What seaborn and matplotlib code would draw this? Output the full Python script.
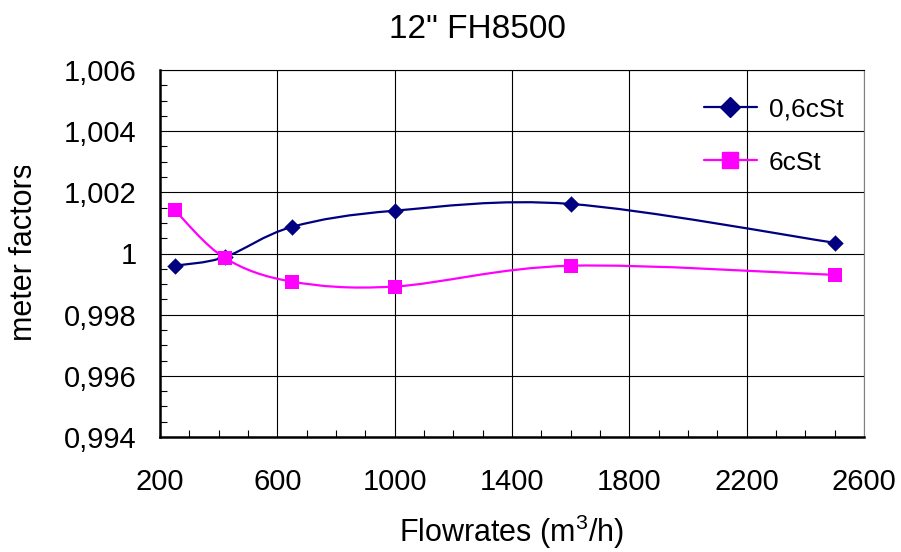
import numpy as np
import matplotlib
matplotlib.use("Agg")
import matplotlib.pyplot as plt
import seaborn as sns
from matplotlib.path import Path
from matplotlib.patches import PathPatch
from matplotlib.lines import Line2D
from matplotlib.ticker import MultipleLocator, FuncFormatter
from matplotlib.transforms import Bbox

# data
flow = [250, 420, 650, 1000, 1600, 2500]
mf_06cst = [0.99960, 0.99988, 1.00087, 1.00140, 1.00162, 1.00035]
mf_6cst = [1.00142, 0.99986, 0.99908, 0.99892, 0.99960, 0.99930]
series_names = ["0,6cSt", "6cSt"]
series_colors = ["#000080", "#FF00FF"]
series_markers = ["D", "s"]
x_ticks = [200, 600, 1000, 1400, 1800, 2200, 2600]


def smooth_path(xs, ys):
    """Excel-style smoothed line: cubic Bezier segments through the points."""
    pts = np.column_stack([xs, ys]).astype(float)
    n = len(pts)
    verts = [pts[0]]
    codes = [Path.MOVETO]
    for i in range(n - 1):
        p0 = pts[max(i - 1, 0)]
        p1 = pts[i]
        p2 = pts[i + 1]
        p3 = pts[min(i + 2, n - 1)]
        c1 = p1 + (p2 - p0) / 6.0
        c2 = p2 - (p3 - p1) / 6.0
        verts += [c1, c2, p2]
        codes += [Path.CURVE4] * 3
    return Path(verts, codes)


sns.set_theme(style="white")
plt.rcParams["font.family"] = ["Liberation Sans", "DejaVu Sans"]
plt.rcParams["mathtext.fontset"] = "custom"
plt.rcParams["mathtext.rm"] = "Liberation Sans"
for key in ["text.color", "axes.labelcolor", "xtick.color", "ytick.color"]:
    plt.rcParams[key] = "black"

fig = plt.figure(figsize=(9.01, 5.52), dpi=100)
ax = fig.add_axes([160 / 901, 1 - 437 / 552, 704 / 901, 367 / 552])

for ys, name, col, mk, sz in zip([mf_06cst, mf_6cst], series_names,
                                  series_colors, series_markers, [70, 110]):
    ax.add_patch(PathPatch(smooth_path(flow, ys), facecolor="none",
                           edgecolor=col, linewidth=1.6, zorder=3))
    sns.scatterplot(x=flow, y=ys, marker=mk, color=col, s=sz,
                    edgecolor=col, linewidth=0, ax=ax, zorder=4, legend=False)

ax.set_xlim(200, 2600)
ax.set_ylim(0.994, 1.006)
ax.set_xticks(x_ticks)
ax.xaxis.set_minor_locator(MultipleLocator(100))
ax.yaxis.set_major_locator(MultipleLocator(0.002))
ax.yaxis.set_minor_locator(MultipleLocator(0.0005))


def comma_fmt(v, pos):
    s = f"{v:.3f}".rstrip("0").rstrip(".")
    return s.replace(".", ",")


ax.yaxis.set_major_formatter(FuncFormatter(comma_fmt))
ax.grid(True, which="major", color="black", linewidth=0.8)
ax.tick_params(which="major", length=0, labelsize=21, labelcolor="black")
ax.tick_params(axis="y", which="major", pad=17)
ax.tick_params(axis="x", which="major", pad=22)
ax.tick_params(which="minor", direction="in", length=5, width=0.8,
               color="black", bottom=True, left=True)

for side in ["left", "bottom"]:
    ax.spines[side].set_color("black")
    ax.spines[side].set_linewidth(1.8)
ax.spines["top"].set_color("black")
ax.spines["top"].set_linewidth(0.8)
ax.spines["right"].set_color("#808080")
ax.spines["right"].set_linewidth(0.8)

ax.set_title('12" FH8500', fontsize=24, pad=23, x=(477 - 160) / 704,
             color="black")
ax.set_xlabel("Flowrates (m$^3$/h)", fontsize=22, labelpad=12, color="black")
ylab = ax.set_ylabel("meter factors", fontsize=22, color="black")
ax.yaxis.set_label_coords(-0.172, 0.505)

handles = [
    Line2D([], [], color=series_colors[0], marker="D", markersize=10.5,
           linewidth=1.6, label=series_names[0]),
    Line2D([], [], color=series_colors[1], marker="s", markersize=11,
           linewidth=1.6, label=series_names[1]),
]
leg = ax.legend(handles=handles, loc="upper left",
                bbox_to_anchor=((704 - 160) / 704, 0.925), frameon=False,
                fontsize=19, handlelength=2.0, handletextpad=0.45,
                labelspacing=1.1, borderpad=0, borderaxespad=0)
for t in leg.get_texts():
    t.set_color("black")

# the reference clips the top of the y label
ylab.set_clip_box(Bbox.from_extents(0, 0, 901, 552 - 166))
ylab.set_clip_on(True)

fig.savefig("out.png", dpi=100)
plt.close(fig)
